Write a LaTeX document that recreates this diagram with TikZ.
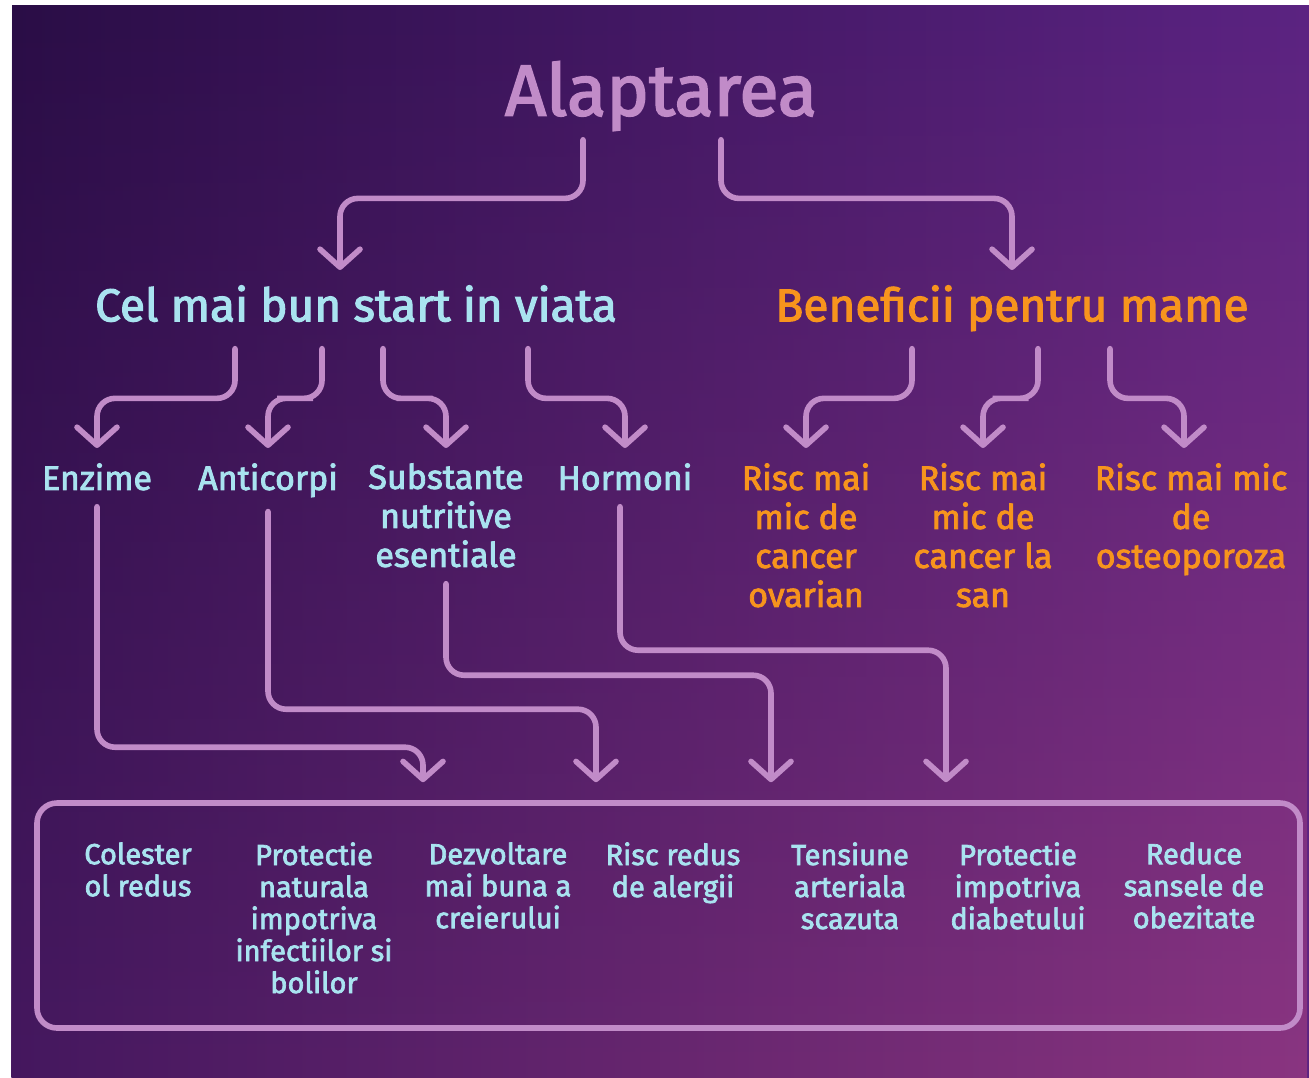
\documentclass[tikz,border=0pt]{standalone}
\usepackage{fontspec}
\setmainfont{Fira Sans}[UprightFeatures={FakeBold=2.4}]
\usepackage{tikz}
\usetikzlibrary{positioning,calc,arrows.meta,fadings}

\definecolor{bgtl}{HTML}{2A0D46}
\definecolor{bgtr}{HTML}{5B2382}
\definecolor{bgbl}{HTML}{45185F}
\definecolor{bgbr}{HTML}{8A3580}
\definecolor{lilac}{HTML}{C18BC8}
\definecolor{sky}{HTML}{A9E3F0}
\definecolor{amber}{HTML}{F7941D}

\tikzfading[name=fadedown, top color=transparent!100, bottom color=transparent!0]

\tikzset{
  conn/.style={draw=lilac, line width=2.8pt, rounded corners=9pt, line cap=round,
    -{Straight Barb[length=9pt,width=20pt,round]}},
  title/.style={lilac, font=\fontsize{36}{40}\selectfont, inner sep=0pt, anchor=north, text depth=0pt},
  head/.style={font=\fontsize{23}{26}\selectfont, inner sep=0pt, anchor=north, text depth=0pt},
  child/.style={sky, font=\fontsize{17}{19.5}\selectfont, align=center, inner sep=0pt, anchor=north},
  mom/.style={amber, font=\fontsize{17}{19.5}\selectfont, align=center, inner sep=0pt, anchor=north},
  gain/.style={sky, font=\fontsize{14.5}{16}\selectfont, align=center, inner sep=0pt, anchor=north},
}

\begin{document}
\begin{tikzpicture}[x=0.5pt,y=-0.5pt]
            %% Background
            \fill[white] (0,0) rectangle (1309,1077);
            \shade[left color=bgtl, right color=bgtr] (12,5) rectangle (1309,1077);
            \shade[left color=bgbl, right color=bgbr, path fading=fadedown] (12,5) rectangle (1309,1077);
            \useasboundingbox (0,0) rectangle (1309,1077);

            %% Texts
            % Top title and the two branches
            \node[title] (alap) at (661,61) {Alaptarea};
            \node[head, sky] (start) at (356,285) {Cel mai bun start in viata};
            \node[head, amber] (mame) at (1012,285) {Beneficii pentru mame};

            % What the baby gets
            \node[child] (enz) at (97,463) {Enzime};
            \node[child] (anti) at (268,463) {Anticorpi};
            \node[child] (subst) at (446,463) {Substante\\nutritive\\esentiale};
            \node[child] (horm) at (625,463) {Hormoni};

            % What the mother gets
            \node[mom] (ovar) at (806,463) {Risc mai\\mic de\\cancer\\ovarian};
            \node[mom] (san) at (983,463) {Risc mai\\mic de\\cancer la\\san};
            \node[mom] (osteo) at (1191,463) {Risc mai mic\\de\\osteoporoza};

            % Box with the results for the baby
            \node[draw=lilac, line width=2.8pt, rounded corners=10pt, minimum width=631.5pt, minimum height=112.5pt] (box) at (668.5,915.5) {};
            \node[gain] (g1) at (138,842) {Colester\\ol redus};
            \node[gain] (g2) at (314,842) {Protectie\\naturala\\impotriva\\infectiilor si\\bolilor};
            \node[gain] (g3) at (498,842) {Dezvoltare\\mai buna a\\creierului};
            \node[gain] (g4) at (673,842) {Risc redus\\de alergii};
            \node[gain] (g5) at (850,842) {Tensiune\\arteriala\\scazuta};
            \node[gain] (g6) at (1018,842) {Protectie\\impotriva\\diabetului};
            \node[gain] (g7) at (1194,842) {Reduce\\sansele de\\obezitate};

            %% Connections
            % Alaptarea to the two branches
            \coordinate (a1) at ($(alap.south)+(-78,24)$);
            \coordinate (a2) at ($(alap.south)+(60,24)$);
            \coordinate (b1) at ($(start.north)+(-16,-15)$);
            \coordinate (b2) at ($(mame.north)+(0,-15)$);
            \draw[conn] (a1) |- ($(a1)!.45!(b1)$) -| (b1);
            \draw[conn] (a2) |- ($(a2)!.45!(b2)$) -| (b2);

            % Cel mai bun start in viata to the four children
            \coordinate (s1) at ($(start.south)+(-121,27)$);
            \coordinate (s2) at ($(start.south)+(-34,27)$);
            \coordinate (s3) at ($(start.south)+(27,27)$);
            \coordinate (s4) at ($(start.south)+(172,27)$);
            \coordinate (e1) at ($(enz.north)+(0,-15)$);
            \coordinate (e2) at ($(anti.north)+(0,-15)$);
            \coordinate (e3) at ($(subst.north)+(0,-15)$);
            \coordinate (e4) at ($(horm.north)+(0,-15)$);
            \draw[conn] (s1) |- ($(s1)!.5!(e1)$) -| (e1);
            \draw[conn] (s2) |- ($(s2)!.5!(e2)$) -| (e2);
            \draw[conn] (s3) |- ($(s3)!.5!(e3)$) -| (e3);
            \draw[conn] (s4) |- ($(s4)!.5!(e4)$) -| (e4);

            % Beneficii pentru mame to the three risks
            \coordinate (m1) at ($(mame.south)+(-100,27)$);
            \coordinate (m2) at ($(mame.south)+(26,27)$);
            \coordinate (m3) at ($(mame.south)+(98,27)$);
            \coordinate (r1) at ($(ovar.north)+(0,-15)$);
            \coordinate (r2) at ($(san.north)+(0,-15)$);
            \coordinate (r3) at ($(osteo.north)+(-7,-15)$);
            \draw[conn] (m1) |- ($(m1)!.5!(r1)$) -| (r1);
            \draw[conn] (m2) |- ($(m2)!.5!(r2)$) -| (r2);
            \draw[conn] (m3) |- ($(m3)!.5!(r3)$) -| (r3);

            % Children down into the box
            \coordinate (in1) at ($(box.north)+(-245.5,-18)$);
            \coordinate (in2) at ($(box.north)+(-72.5,-18)$);
            \coordinate (in3) at ($(box.north)+(102.5,-18)$);
            \coordinate (in4) at ($(box.north)+(277.5,-18)$);
            \draw[conn] ($(enz.south)+(0,16)$) |- ($(in1)+(0,-35)$) -- (in1);
            \draw[conn] ($(anti.south)+(0,14)$) |- ($(in2)+(0,-73)$) -- (in2);
            \draw[conn] ($(subst.south)+(0,16)$) |- ($(in3)+(0,-107)$) -- (in3);
            \draw[conn] ($(horm.south)+(-5,16)$) |- ($(in4)+(0,-132)$) -- (in4);

        \end{tikzpicture}
\end{document}
